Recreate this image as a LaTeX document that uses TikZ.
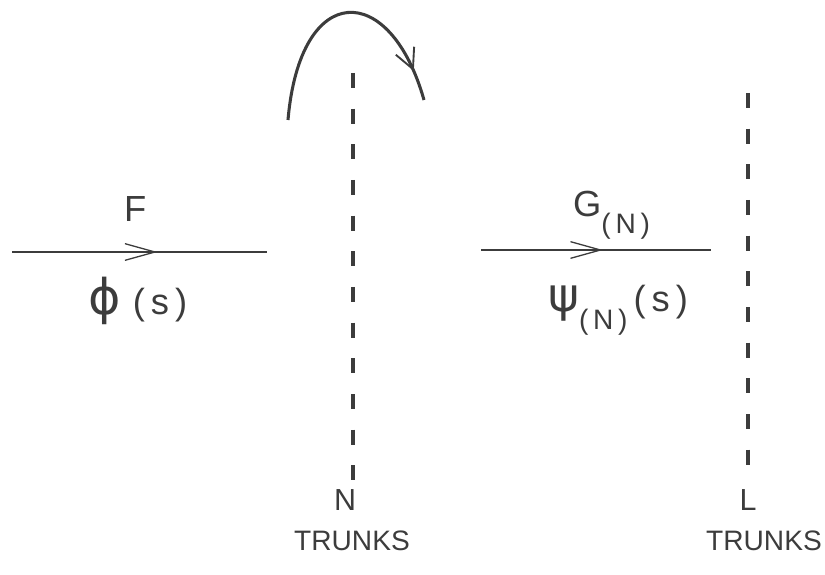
\documentclass[tikz,border=0pt]{standalone}
\usepackage{fontspec}
\setmainfont{Liberation Sans}
\newfontfamily\greekfont{DejaVu Sans}
\usetikzlibrary{arrows.meta, decorations.markings}
\definecolor{InkGray}{RGB}{60,60,60}

\tikzset{
  flow/.style={InkGray, line width=1.7pt, postaction={decorate},
    decoration={markings, mark=at position #1 with
      {\arrow{Straight Barb[length=9mm, width=5mm, line width=1.1pt]}}}},
  trunkline/.style={InkGray, line width=3.4pt, dash pattern=on 0.45cm off 0.62cm},
  bigtext/.style={InkGray, font=\fontsize{31}{34}\selectfont, inner sep=0pt, anchor=base west},
  smalltext/.style={InkGray, font=\fontsize{24}{28}\selectfont, inner sep=0pt},
}

\begin{document}
\begin{tikzpicture}[x=0.3mm, y=-0.3mm]
  \useasboundingbox (0,0) rectangle (825,575);

  % trunk groups
  \coordinate (ntop) at (353,73);
  \coordinate (nbot) at (353,482);
  \coordinate (ltop) at (748,93);
  \coordinate (lbot) at (748,482);
  \draw[trunkline] (ntop) -- (nbot);
  \draw[trunkline] (ltop) -- (lbot);

  % input and output streams
  \coordinate (fin) at (12,252);
  \coordinate (fout) at (267,252);
  \coordinate (gin) at (481,250);
  \coordinate (gout) at (711,250);
  \draw[flow=0.57] (fin) -- (fout);
  \draw[flow=0.53] (gin) -- (gout);

  % overflow loop
  \coordinate (loopa) at (288,120);
  \coordinate (loopb) at (424,100);
  \draw[InkGray, line width=2.6pt, postaction={decorate},
    decoration={markings, mark=at position 0.88 with
      {\arrow{Straight Barb[length=6mm, width=6mm, line width=1.6pt]}}}]
    (loopa) .. controls (300,-20) and (390,-20) .. (loopb);

  % labels
  \node[bigtext] (flab) at (124,222) {F};
  \node[bigtext] (philab) at (88,314) {{\greekfont\fontsize{42}{44}\selectfont ϕ}\,\,(\,s\,)};
  \node[bigtext] (glab) at (573,217) {G\raisebox{-14pt}{\fontsize{24}{28}\selectfont(\,N\,)}};
  \node[bigtext] (psilab) at (548,312) {{\greekfont\fontsize{40}{44}\selectfont ψ}\raisebox{-15pt}{\fontsize{24}{28}\selectfont(\,N\,)}\,(\,s\,)};

  \node[smalltext, font=\fontsize{26}{28}\selectfont] (nlab) at (345,500) {N};
  \node[smalltext] (ntrunks) at (352,541) {TRUNKS};
  \node[smalltext, font=\fontsize{26}{28}\selectfont] (llab) at (748,500) {L};
  \node[smalltext] (ltrunks) at (764,541) {TRUNKS};
\end{tikzpicture}
\end{document}
